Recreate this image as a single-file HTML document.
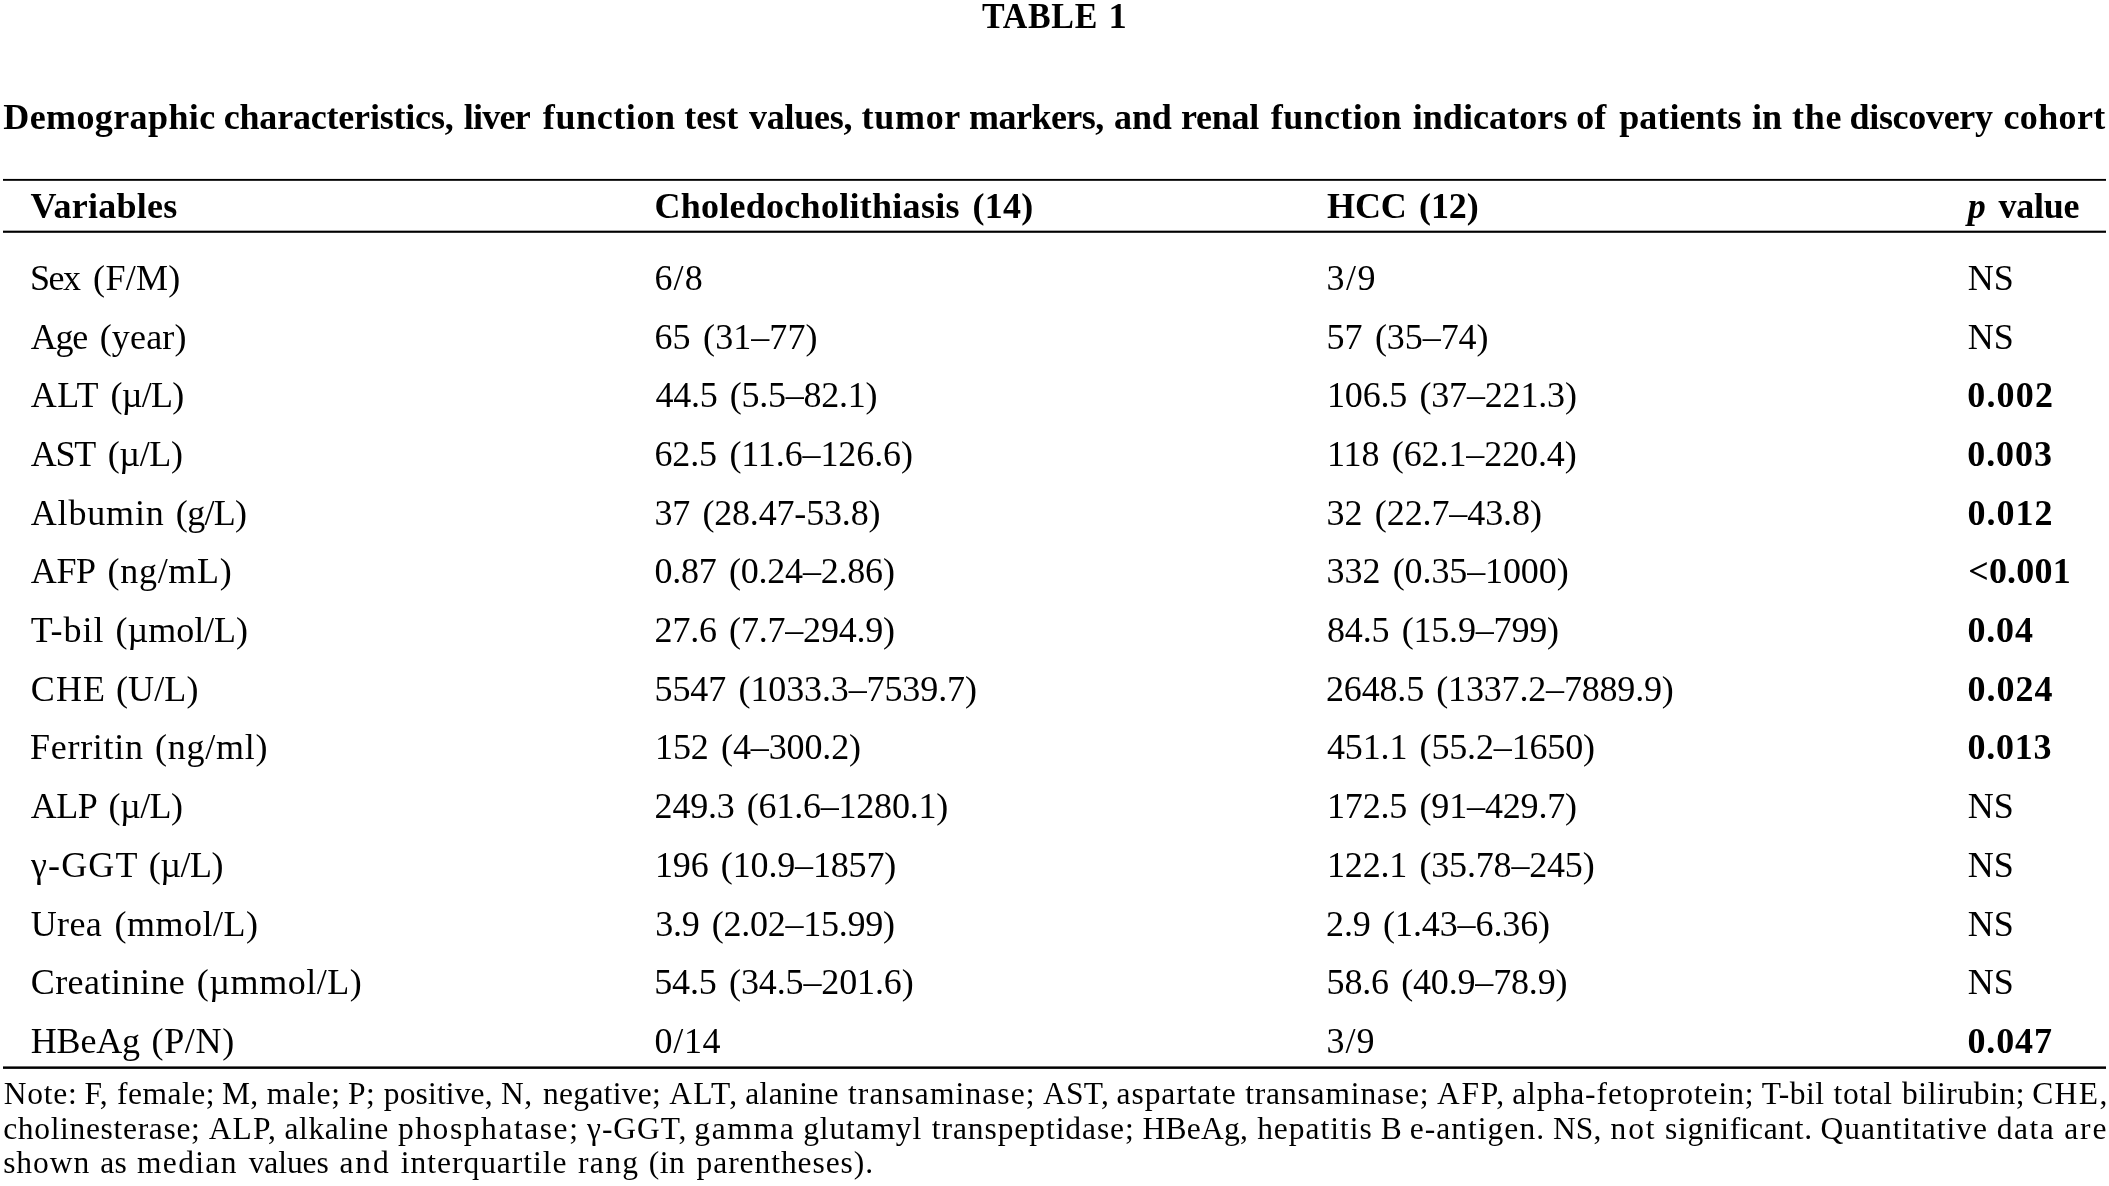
<!DOCTYPE html>
<html lang="en"><head><meta charset="utf-8"><title>TABLE 1</title>
<style>
html,body{margin:0;padding:0;background:#fff;}
body{width:2109px;height:1186px;position:relative;overflow:hidden;font-family:"Liberation Serif","DejaVu Serif",serif;color:#000;}
.t{position:absolute;white-space:pre;line-height:40px;}
.r{position:absolute;left:3px;width:2103px;background:#000;}
#pg{position:absolute;left:0;top:0;width:2109px;height:1186px;will-change:transform;background:#fff;}
</style></head><body><div id="pg">

<span class="t ln" id="title" role="heading" aria-level="1" style="left:982.46px;top:-3.92px;font-size:36.5px;font-weight:700;"><span class="w" style="letter-spacing:0.750px;display:inline-block;transform:scaleX(0.93);transform-origin:0 50%;">TABLE</span><span style="word-spacing:-7.95px"> </span><span class="w">1</span></span>
<span class="t ln" id="caption" role="caption" style="left:3.30px;top:96.55px;font-size:36px;font-weight:700;"><span class="w" style="letter-spacing:0.395px;">Demographic</span><span style="word-spacing:-0.88px"> </span><span class="w" style="letter-spacing:-0.194px;">characteristics,</span><span style="word-spacing:1.29px"> </span><span class="w" style="letter-spacing:-0.764px;">liver</span><span style="word-spacing:3.86px"> </span><span class="w" style="letter-spacing:0.586px;">function</span><span style="word-spacing:-0.34px"> </span><span class="w" style="letter-spacing:-0.033px;">test</span><span style="word-spacing:1.78px"> </span><span class="w" style="letter-spacing:-0.226px;">values,</span><span style="word-spacing:0.28px"> </span><span class="w" style="letter-spacing:0.689px;">tumor</span><span style="word-spacing:-0.94px"> </span><span class="w" style="letter-spacing:-0.543px;">markers,</span><span style="word-spacing:1.29px"> </span><span class="w" style="letter-spacing:-0.100px;">and</span><span style="word-spacing:0.15px"> </span><span class="w" style="letter-spacing:-0.250px;">renal</span><span style="word-spacing:2.76px"> </span><span class="w" style="letter-spacing:0.374px;">function</span><span style="word-spacing:1.90px"> </span><span class="w" style="letter-spacing:0.078px;">indicators</span><span style="word-spacing:-0.28px"> </span><span class="w">of</span><span style="word-spacing:4.00px"> </span><span class="w" style="letter-spacing:0.049px;">patients</span><span style="word-spacing:1.41px"> </span><span class="w">in</span><span style="word-spacing:0.85px"> </span><span class="w" style="letter-spacing:0.775px;">the</span><span style="word-spacing:-1.79px"> </span><span class="w" style="letter-spacing:-0.307px;">discovery</span><span style="word-spacing:1.81px"> </span><span class="w" style="letter-spacing:0.350px;">cohort</span></span>
<div class="r" style="top:178px;height:3px;background:linear-gradient(to bottom,#ececec 0 1px,#000 1px 2px,#2e2e2e 2px 3px)"></div>
<div class="r" style="top:230px;height:3px;background:linear-gradient(to bottom,#a8a8a8 0 1px,#000 1px 2px,#303030 2px 3px)"></div>
<div role="table" aria-label="TABLE 1">
<div role="row">
<span class="t" id="h0" role="columnheader" style="left:30.60px;top:185.95px;font-size:36px;font-weight:700;letter-spacing:0.250px;">Variables</span>
<span class="t" id="h1" role="columnheader" style="left:654.40px;top:185.95px;font-size:36px;font-weight:700;letter-spacing:0.279px;word-spacing:3.500px;">Choledocholithiasis (14)</span>
<span class="t" id="h2" role="columnheader" style="left:1327.00px;top:185.95px;font-size:36px;font-weight:700;letter-spacing:-0.115px;word-spacing:3.500px;">HCC (12)</span>
<span class="t ln" id="h3" role="columnheader" style="left:1967.70px;top:185.95px;font-size:36px;font-weight:700;"><i class="w">p</i><span style="word-spacing:3.86px"> </span><span class="w" style="letter-spacing:-0.255px;">value</span></span>
</div>
<div role="row">
<span class="t ln" id="r0c0" role="rowheader" style="left:30.10px;top:258.05px;font-size:36px;"><span class="w" style="letter-spacing:-1.500px;">Sex</span><span style="word-spacing:4.50px"> </span><span class="w" style="letter-spacing:0.300px;">(F/M)</span></span>
<span class="t" id="r0c1" role="cell" style="left:654.40px;top:258.05px;font-size:36px;letter-spacing:1.200px;">6/8</span>
<span class="t" id="r0c2" role="cell" style="left:1326.60px;top:258.05px;font-size:36px;letter-spacing:1.400px;">3/9</span>
<span class="t" id="r0c3" role="cell" style="left:1967.80px;top:258.05px;font-size:36px;letter-spacing:0.000px;">NS</span>
</div>
<div role="row">
<span class="t ln" id="r1c0" role="rowheader" style="left:30.70px;top:316.73px;font-size:36px;"><span class="w" style="letter-spacing:-1.200px;">Age</span><span style="word-spacing:3.60px"> </span><span class="w" style="letter-spacing:0.180px;">(year)</span></span>
<span class="t" id="r1c1" role="cell" style="left:654.40px;top:316.73px;font-size:36px;letter-spacing:0.065px;word-spacing:3.500px;">65 (31–77)</span>
<span class="t" id="r1c2" role="cell" style="left:1326.60px;top:316.73px;font-size:36px;letter-spacing:-0.065px;word-spacing:3.500px;">57 (35–74)</span>
<span class="t" id="r1c3" role="cell" style="left:1967.80px;top:316.73px;font-size:36px;letter-spacing:0.000px;">NS</span>
</div>
<div role="row">
<span class="t ln" id="r2c0" role="rowheader" style="left:30.70px;top:375.41px;font-size:36px;"><span class="w" style="letter-spacing:0.600px;">ALT</span><span style="word-spacing:2.40px"> </span><span class="w" style="letter-spacing:-0.750px;">(µ/L)</span></span>
<span class="t" id="r2c1" role="cell" style="left:655.40px;top:375.41px;font-size:36px;letter-spacing:-0.241px;word-spacing:3.500px;">44.5 (5.5–82.1)</span>
<span class="t" id="r2c2" role="cell" style="left:1327.00px;top:375.41px;font-size:36px;letter-spacing:-0.173px;word-spacing:3.500px;">106.5 (37–221.3)</span>
<span class="t" id="r2c3" role="cell" style="left:1967.20px;top:375.41px;font-size:36px;font-weight:700;letter-spacing:1.200px;">0.002</span>
</div>
<div role="row">
<span class="t ln" id="r3c0" role="rowheader" style="left:30.70px;top:434.09px;font-size:36px;"><span class="w" style="letter-spacing:-1.200px;">AST</span><span style="word-spacing:3.60px"> </span><span class="w" style="letter-spacing:-0.375px;">(µ/L)</span></span>
<span class="t" id="r3c1" role="cell" style="left:654.40px;top:434.09px;font-size:36px;letter-spacing:-0.100px;word-spacing:3.500px;">62.5 (11.6–126.6)</span>
<span class="t" id="r3c2" role="cell" style="left:1327.00px;top:434.09px;font-size:36px;letter-spacing:-0.093px;word-spacing:3.500px;">118 (62.1–220.4)</span>
<span class="t" id="r3c3" role="cell" style="left:1967.20px;top:434.09px;font-size:36px;font-weight:700;letter-spacing:0.950px;">0.003</span>
</div>
<div role="row">
<span class="t ln" id="r4c0" role="rowheader" style="left:30.70px;top:492.77px;font-size:36px;"><span class="w" style="letter-spacing:0.850px;">Albumin</span><span style="word-spacing:2.15px"> </span><span class="w" style="letter-spacing:-0.675px;">(g/L)</span></span>
<span class="t" id="r4c1" role="cell" style="left:654.40px;top:492.77px;font-size:36px;letter-spacing:-0.170px;word-spacing:3.500px;">37 (28.47-53.8)</span>
<span class="t" id="r4c2" role="cell" style="left:1326.60px;top:492.77px;font-size:36px;letter-spacing:-0.091px;word-spacing:3.500px;">32 (22.7–43.8)</span>
<span class="t" id="r4c3" role="cell" style="left:1967.40px;top:492.77px;font-size:36px;font-weight:700;letter-spacing:1.000px;">0.012</span>
</div>
<div role="row">
<span class="t ln" id="r5c0" role="rowheader" style="left:30.70px;top:551.45px;font-size:36px;"><span class="w" style="letter-spacing:-0.300px;">AFP</span><span style="word-spacing:2.70px"> </span><span class="w" style="letter-spacing:0.700px;">(ng/mL)</span></span>
<span class="t" id="r5c1" role="cell" style="left:654.40px;top:551.45px;font-size:36px;letter-spacing:-0.200px;word-spacing:3.500px;">0.87 (0.24–2.86)</span>
<span class="t" id="r5c2" role="cell" style="left:1326.60px;top:551.45px;font-size:36px;letter-spacing:-0.101px;word-spacing:3.500px;">332 (0.35–1000)</span>
<span class="t" id="r5c3" role="cell" style="left:1968.20px;top:551.45px;font-size:36px;font-weight:700;letter-spacing:0.200px;">&lt;0.001</span>
</div>
<div role="row">
<span class="t ln" id="r6c0" role="rowheader" style="left:30.70px;top:610.13px;font-size:36px;"><span class="w" style="letter-spacing:1.050px;">T-bil</span><span style="word-spacing:1.95px"> </span><span class="w" style="letter-spacing:-0.042px;">(µmol/L)</span></span>
<span class="t" id="r6c1" role="cell" style="left:654.60px;top:610.13px;font-size:36px;letter-spacing:-0.200px;word-spacing:3.500px;">27.6 (7.7–294.9)</span>
<span class="t" id="r6c2" role="cell" style="left:1327.00px;top:610.13px;font-size:36px;letter-spacing:-0.171px;word-spacing:3.500px;">84.5 (15.9–799)</span>
<span class="t" id="r6c3" role="cell" style="left:1967.40px;top:610.13px;font-size:36px;font-weight:700;letter-spacing:0.867px;">0.04</span>
</div>
<div role="row">
<span class="t ln" id="r7c0" role="rowheader" style="left:30.70px;top:668.81px;font-size:36px;"><span class="w" style="letter-spacing:1.200px;">CHE</span><span style="word-spacing:0.60px"> </span><span class="w" style="letter-spacing:0.150px;">(U/L)</span></span>
<span class="t" id="r7c1" role="cell" style="left:654.60px;top:668.81px;font-size:36px;letter-spacing:-0.115px;word-spacing:3.500px;">5547 (1033.3–7539.7)</span>
<span class="t" id="r7c2" role="cell" style="left:1326.00px;top:668.81px;font-size:36px;letter-spacing:-0.173px;word-spacing:3.500px;">2648.5 (1337.2–7889.9)</span>
<span class="t" id="r7c3" role="cell" style="left:1967.40px;top:668.81px;font-size:36px;font-weight:700;letter-spacing:1.050px;">0.024</span>
</div>
<div role="row">
<span class="t ln" id="r8c0" role="rowheader" style="left:30.10px;top:727.49px;font-size:36px;"><span class="w" style="letter-spacing:0.686px;">Ferritin</span><span style="word-spacing:2.31px"> </span><span class="w" style="letter-spacing:0.750px;">(ng/ml)</span></span>
<span class="t" id="r8c1" role="cell" style="left:655.00px;top:727.49px;font-size:36px;letter-spacing:-0.118px;word-spacing:3.500px;">152 (4–300.2)</span>
<span class="t" id="r8c2" role="cell" style="left:1327.00px;top:727.49px;font-size:36px;letter-spacing:-0.152px;word-spacing:3.500px;">451.1 (55.2–1650)</span>
<span class="t" id="r8c3" role="cell" style="left:1967.40px;top:727.49px;font-size:36px;font-weight:700;letter-spacing:0.750px;">0.013</span>
</div>
<div role="row">
<span class="t ln" id="r9c0" role="rowheader" style="left:30.70px;top:786.17px;font-size:36px;"><span class="w" style="letter-spacing:-0.450px;">ALP</span><span style="word-spacing:2.25px"> </span><span class="w" style="letter-spacing:-0.600px;">(µ/L)</span></span>
<span class="t" id="r9c1" role="cell" style="left:654.60px;top:786.17px;font-size:36px;letter-spacing:-0.212px;word-spacing:3.500px;">249.3 (61.6–1280.1)</span>
<span class="t" id="r9c2" role="cell" style="left:1327.00px;top:786.17px;font-size:36px;letter-spacing:-0.160px;word-spacing:3.500px;">172.5 (91–429.7)</span>
<span class="t" id="r9c3" role="cell" style="left:1967.80px;top:786.17px;font-size:36px;letter-spacing:0.000px;">NS</span>
</div>
<div role="row">
<span class="t ln" id="r10c0" role="rowheader" style="left:31.00px;top:844.85px;font-size:36px;"><span class="w" style="letter-spacing:1.125px;">γ-GGT</span><span style="word-spacing:1.30px"> </span><span class="w" style="letter-spacing:-0.525px;">(µ/L)</span></span>
<span class="t" id="r10c1" role="cell" style="left:655.00px;top:844.85px;font-size:36px;letter-spacing:-0.158px;word-spacing:3.500px;">196 (10.9–1857)</span>
<span class="t" id="r10c2" role="cell" style="left:1327.00px;top:844.85px;font-size:36px;letter-spacing:-0.175px;word-spacing:3.500px;">122.1 (35.78–245)</span>
<span class="t" id="r10c3" role="cell" style="left:1967.80px;top:844.85px;font-size:36px;letter-spacing:0.000px;">NS</span>
</div>
<div role="row">
<span class="t ln" id="r11c0" role="rowheader" style="left:30.70px;top:903.53px;font-size:36px;"><span class="w" style="letter-spacing:0.400px;">Urea</span><span style="word-spacing:3.20px"> </span><span class="w" style="letter-spacing:0.513px;">(mmol/L)</span></span>
<span class="t" id="r11c1" role="cell" style="left:655.20px;top:903.53px;font-size:36px;letter-spacing:-0.241px;word-spacing:3.500px;">3.9 (2.02–15.99)</span>
<span class="t" id="r11c2" role="cell" style="left:1326.00px;top:903.53px;font-size:36px;letter-spacing:-0.101px;word-spacing:3.500px;">2.9 (1.43–6.36)</span>
<span class="t" id="r11c3" role="cell" style="left:1967.80px;top:903.53px;font-size:36px;letter-spacing:0.000px;">NS</span>
</div>
<div role="row">
<span class="t ln" id="r12c0" role="rowheader" style="left:30.70px;top:962.21px;font-size:36px;"><span class="w" style="letter-spacing:0.466px;">Creatinine</span><span style="word-spacing:2.54px"> </span><span class="w" style="letter-spacing:0.525px;">(µmmol/L)</span></span>
<span class="t" id="r12c1" role="cell" style="left:654.20px;top:962.21px;font-size:36px;letter-spacing:-0.125px;word-spacing:3.500px;">54.5 (34.5–201.6)</span>
<span class="t" id="r12c2" role="cell" style="left:1326.60px;top:962.21px;font-size:36px;letter-spacing:-0.174px;word-spacing:3.500px;">58.6 (40.9–78.9)</span>
<span class="t" id="r12c3" role="cell" style="left:1967.80px;top:962.21px;font-size:36px;letter-spacing:0.000px;">NS</span>
</div>
<div role="row">
<span class="t ln" id="r13c0" role="rowheader" style="left:30.70px;top:1020.89px;font-size:36px;"><span class="w" style="letter-spacing:-0.150px;">HBeAg</span><span style="word-spacing:2.55px"> </span><span class="w" style="letter-spacing:0.675px;">(P/N)</span></span>
<span class="t" id="r13c1" role="cell" style="left:654.60px;top:1020.89px;font-size:36px;letter-spacing:0.667px;">0/14</span>
<span class="t" id="r13c2" role="cell" style="left:1326.60px;top:1020.89px;font-size:36px;letter-spacing:1.000px;">3/9</span>
<span class="t" id="r13c3" role="cell" style="left:1967.40px;top:1020.89px;font-size:36px;font-weight:700;letter-spacing:0.900px;">0.047</span>
</div>
</div>
<div class="r" style="top:1066px;height:3px;background:linear-gradient(to bottom,#686868 0 1px,#000 1px 2px,#1c1c1c 2px 3px)"></div>
<span class="t ln" id="n0" role="note" style="left:3.75px;top:1073.77px;font-size:31.5px;letter-spacing:0.450px;"><span class="w" style="letter-spacing:0.750px;">Note:</span><span style="word-spacing:-1.41px"> </span><span class="w">F,</span><span style="word-spacing:0.45px"> </span><span class="w" style="letter-spacing:0.515px;">female;</span><span style="word-spacing:-1.45px"> </span><span class="w">M,</span><span style="word-spacing:-0.20px"> </span><span class="w" style="letter-spacing:0.825px;">male;</span><span style="word-spacing:-1.28px"> </span><span class="w">P;</span><span style="word-spacing:0.30px"> </span><span class="w" style="letter-spacing:0.156px;">positive,</span><span style="word-spacing:-0.11px"> </span><span class="w">N,</span><span style="word-spacing:2.20px"> </span><span class="w" style="letter-spacing:0.280px;">negative;</span><span style="word-spacing:-0.21px"> </span><span class="w" style="letter-spacing:1.350px;">ALT,</span><span style="word-spacing:-1.60px"> </span><span class="w" style="letter-spacing:0.385px;">alanine</span><span style="word-spacing:0.75px"> </span><span class="w" style="letter-spacing:1.127px;">transaminase;</span><span style="word-spacing:-1.00px"> </span><span class="w" style="letter-spacing:0.233px;">AST,</span><span style="word-spacing:-0.78px"> </span><span class="w" style="letter-spacing:0.912px;">aspartate</span><span style="word-spacing:0.04px"> </span><span class="w" style="letter-spacing:0.850px;">transaminase;</span><span style="word-spacing:-0.71px"> </span><span class="w" style="letter-spacing:1.683px;">AFP,</span><span style="word-spacing:-2.03px"> </span><span class="w" style="letter-spacing:0.926px;">alpha-fetoprotein;</span><span style="word-spacing:-1.06px"> </span><span class="w" style="letter-spacing:0.514px;">T-bil</span><span style="word-spacing:0.69px"> </span><span class="w" style="letter-spacing:0.650px;">total</span><span style="word-spacing:0.89px"> </span><span class="w" style="letter-spacing:0.593px;">bilirubin;</span><span style="word-spacing:-1.33px"> </span><span class="w" style="letter-spacing:1.433px;">CHE,</span></span>
<span class="t ln" id="n1" style="left:3.15px;top:1108.67px;font-size:31.5px;letter-spacing:0.450px;"><span class="w" style="letter-spacing:0.679px;">cholinesterase;</span><span style="word-spacing:-0.20px"> </span><span class="w" style="letter-spacing:1.150px;">ALP,</span><span style="word-spacing:-0.90px"> </span><span class="w" style="letter-spacing:0.551px;">alkaline</span><span style="word-spacing:0.96px"> </span><span class="w" style="letter-spacing:1.567px;">phosphatase;</span><span style="word-spacing:-0.82px"> </span><span class="w" style="letter-spacing:0.950px;">γ-GGT,</span><span style="word-spacing:-1.40px"> </span><span class="w" style="letter-spacing:1.650px;">gamma</span><span style="word-spacing:-0.50px"> </span><span class="w" style="letter-spacing:0.867px;">glutamyl</span><span style="word-spacing:1.38px"> </span><span class="w" style="letter-spacing:0.932px;">transpeptidase;</span><span style="word-spacing:-0.65px"> </span><span class="w" style="letter-spacing:0.280px;">HBeAg,</span><span style="word-spacing:0.60px"> </span><span class="w" style="letter-spacing:0.981px;">hepatitis</span><span style="word-spacing:-0.41px"> </span><span class="w">B</span><span style="word-spacing:-0.80px"> </span><span class="w" style="letter-spacing:1.041px;">e-antigen.</span><span style="word-spacing:-0.56px"> </span><span class="w" style="letter-spacing:0.150px;">NS,</span><span style="word-spacing:0.80px"> </span><span class="w" style="letter-spacing:1.875px;">not</span><span style="word-spacing:0.26px"> </span><span class="w" style="letter-spacing:0.692px;">signi<span style="letter-spacing:0">fi</span>cant.</span><span style="word-spacing:-0.64px"> </span><span class="w" style="letter-spacing:0.974px;">Quantitative</span><span style="word-spacing:0.52px"> </span><span class="w" style="letter-spacing:1.482px;">data</span><span style="word-spacing:0.58px"> </span><span class="w" style="letter-spacing:1.925px;">are</span></span>
<span class="t ln" id="n2" style="left:3.15px;top:1142.97px;font-size:31.5px;letter-spacing:0.450px;"><span class="w" style="letter-spacing:0.975px;">shown</span><span style="word-spacing:1.57px"> </span><span class="w">as</span><span style="word-spacing:1.25px"> </span><span class="w" style="letter-spacing:1.370px;">median</span><span style="word-spacing:2.45px"> </span><span class="w" style="letter-spacing:-0.060px;">values</span><span style="word-spacing:2.41px"> </span><span class="w" style="letter-spacing:1.850px;">and</span><span style="word-spacing:2.00px"> </span><span class="w" style="letter-spacing:0.968px;">interquartile</span><span style="word-spacing:2.16px"> </span><span class="w" style="letter-spacing:1.398px;">rang</span><span style="word-spacing:0.97px"> </span><span class="w" style="letter-spacing:0.525px;">(in</span><span style="word-spacing:2.91px"> </span><span class="w" style="letter-spacing:0.937px;">parentheses).</span></span>
</div>
</body></html>
